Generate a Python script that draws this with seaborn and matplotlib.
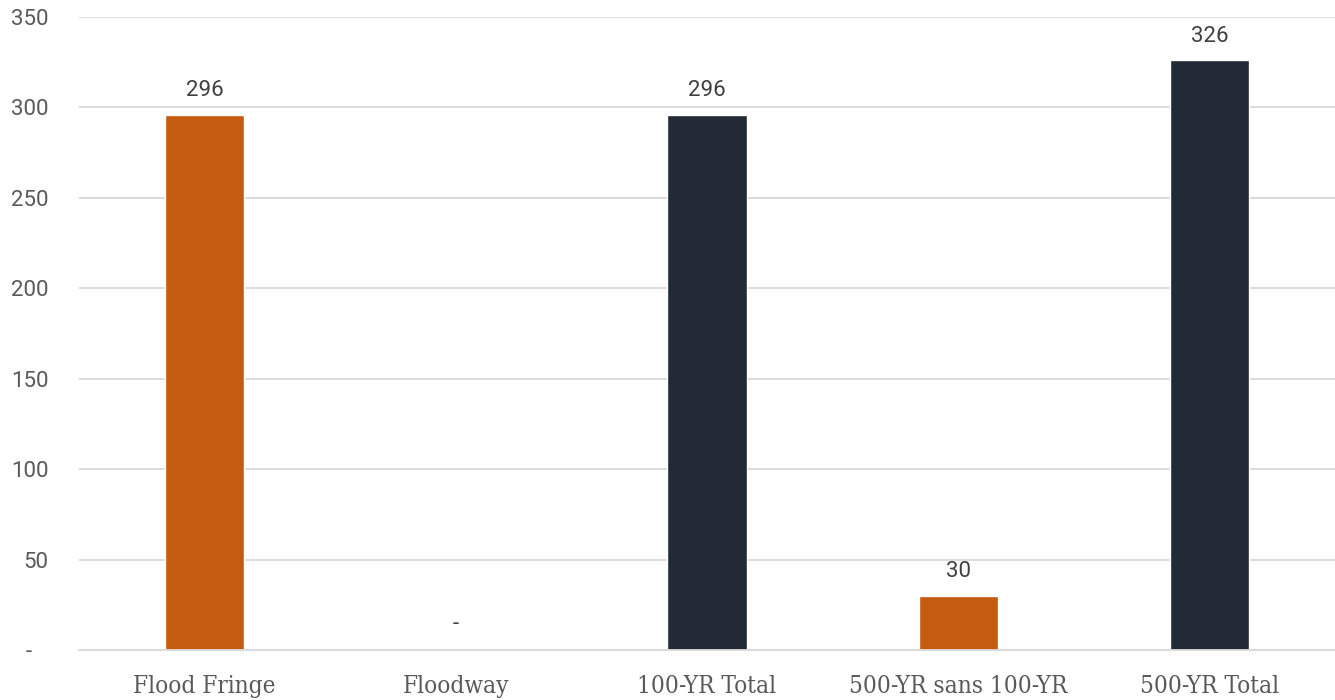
import matplotlib
matplotlib.use("Agg")
import matplotlib.pyplot as plt
import seaborn as sns
import pandas as pd

categories = ["Flood Fringe", "Floodway", "100-YR Total", "500-YR sans 100-YR", "500-YR Total"]
values = [296, 0, 296, 30, 326]
bar_colors = ["#C55A11", "#C55A11", "#222A35", "#C55A11", "#222A35"]
y_ticks = [0, 50, 100, 150, 200, 250, 300, 350]
y_tick_labels = ["-   ", "50", "100", "150", "200", "250", "300", "350"]

sns.set_style("white")
plt.rcParams["font.family"] = ["Roboto", "DejaVu Sans"]

df = pd.DataFrame({"cat": categories, "val": values})

fig = plt.figure(figsize=(13.35, 7.0), dpi=100)
ax = fig.add_axes([79 / 1335, 50 / 700, 1 - 79 / 1335, 633 / 700])

sns.barplot(data=df, x="cat", y="val", hue="cat", palette=bar_colors, legend=False,
            width=0.315, ax=ax, saturation=1)

ax.set_ylim(0, 350)
ax.set_yticks(y_ticks)
ax.set_yticklabels(y_tick_labels, fontsize=16, color="#595959")
ax.tick_params(axis="y", length=0, pad=22)
ax.tick_params(axis="x", length=0, pad=18)
ax.set_xticks(range(len(categories)))
ax.set_xticklabels(categories, fontsize=17.5, color="#595959",
                   fontfamily="DejaVu Serif", fontstretch="condensed")
ax.set_xlabel("")
ax.set_ylabel("")
ax.set_xlim(-0.5, len(categories) - 0.5)

ax.yaxis.grid(True, color="#D9D9D9", linewidth=1.3)
ax.set_axisbelow(True)
for s in ["top", "right", "left"]:
    ax.spines[s].set_visible(False)
ax.spines["bottom"].set_color("#D9D9D9")
ax.spines["bottom"].set_linewidth(1.3)

for i, v in enumerate(values):
    txt = "-" if v == 0 else f"{v}"
    ax.annotate(txt, (i, v), xytext=(0, 10 if v else 11), textcoords="offset points",
                ha="center", va="bottom", fontsize=16, color="#404040")

fig.savefig("out.png", dpi=100)
